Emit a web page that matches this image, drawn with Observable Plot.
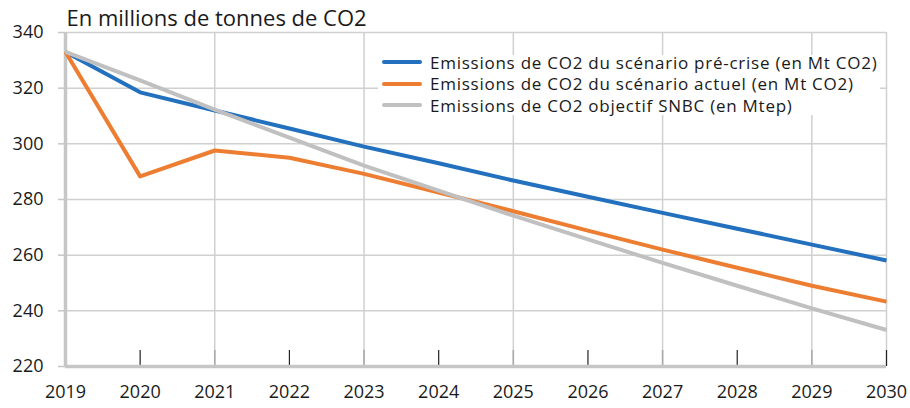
<!DOCTYPE html>
<html>
<head>
<meta charset="utf-8">
<script src="https://cdn.jsdelivr.net/npm/d3@7"></script>
<script src="https://cdn.jsdelivr.net/npm/@observablehq/plot@0.6"></script>
<style>
  html, body { margin: 0; padding: 0; background: #fff; }
  #wrap { position: relative; width: 910px; height: 408px; font-family: "Open Sans", sans-serif; }
  #legend { position: absolute; left: 378px; top: 55px; width: 502px; height: 60px; background: #fff; }
  .row { position: absolute; left: 0; height: 22px; display: flex; align-items: center; font-size: 17px; letter-spacing: 0.75px; color: #1a1a1a; white-space: nowrap; }
  .sw { width: 40px; height: 4px; border-radius: 2px; margin-left: 4px; margin-right: 8px; }
</style>
</head>
<body>
<div id="wrap"></div>
<script>
const years = [2019, 2020, 2021, 2022, 2023, 2024, 2025, 2026, 2027, 2028, 2029, 2030];
const preCrise = [333, 318.5, 312, 305.5, 299, 293, 286.8, 281, 275.2, 269.5, 263.8, 258.1];
const actuel = [333, 288.3, 297.6, 295, 289.2, 282.5, 275.8, 268.8, 262, 255.5, 249, 243.3];
const snbc = [333, 322.8, 312.3, 302.2, 292.2, 283.2, 274.2, 265.7, 257.2, 249, 240.9, 233.1];
const seriesNames = [
  "Emissions de CO2 du scénario pré-crise (en Mt CO2)",
  "Emissions de CO2 du scénario actuel (en Mt CO2)",
  "Emissions de CO2 objectif SNBC (en Mtep)"
];
const colors = ["#2270be", "#ed7d31", "#c0c0c0"];
const yTicks = [220, 240, 260, 280, 300, 320, 340];
const title = "En millions de tonnes de CO2";

const rows = [];
[preCrise, actuel, snbc].forEach((vals, i) => {
  vals.forEach((v, j) => rows.push({series: seriesNames[i], year: years[j], value: v}));
});

const oddYears = years.filter(y => y % 2 === 1 && y !== 2019);
const evenYears = years.filter(y => y % 2 === 0);

const chart = Plot.plot({
  width: 910,
  height: 408,
  marginLeft: 65,
  marginRight: 24,
  marginTop: 32,
  marginBottom: 42,
  style: {fontFamily: "'Open Sans', sans-serif", fontSize: "18px", color: "#1a1a1a", background: "#fff"},
  x: {domain: [2019, 2030]},
  y: {domain: [220, 340]},
  color: {domain: seriesNames, range: colors},
  marks: [
    Plot.gridY(yTicks.slice(1), {stroke: "#d0d0d0", strokeOpacity: 1, strokeWidth: 1.5}),
    Plot.gridX([...oddYears, 2030], {stroke: "#d0d0d0", strokeOpacity: 1, strokeWidth: 1.5}),
    Plot.ruleX([2019, ...oddYears], {y1: 340, y2: 220, insetTop: 318, stroke: "#a8a8a8", strokeWidth: 1.5}),
    Plot.ruleX(evenYears, {y1: 340, y2: 220, insetTop: 318, stroke: "#222", strokeWidth: 1.2}),
    Plot.ruleX([2019], {y1: 340, y2: 220, stroke: "#c6c6c6", strokeWidth: 3.5}),
    Plot.ruleY([220], {stroke: "#c6c6c6", strokeWidth: 3.5}),
    Plot.axisY({ticks: yTicks, tickSize: 7, tickPadding: 15, stroke: "#c6c6c6", strokeWidth: 1.5, label: null, fontSize: 18}),
    Plot.axisX({ticks: years, tickSize: 0, tickPadding: 19, tickFormat: d => String(d), label: null, fontSize: 18}),
    Plot.line(rows, {x: "year", y: "value", z: "series", stroke: "series", strokeWidth: 4, strokeLinejoin: "round", strokeLinecap: "butt"}),
    Plot.text([title], {text: d => d, frameAnchor: "top-left", dx: 1, dy: -22, textAnchor: "start", fontSize: 22, fill: "#1a1a1a"})
  ]
});
const wrap = document.getElementById("wrap");
wrap.appendChild(chart);

const legend = document.createElement("div");
legend.id = "legend";
seriesNames.forEach((name, i) => {
  const r = document.createElement("div");
  r.className = "row";
  r.style.top = (i * 21.5 - 4) + "px";
  const sw = document.createElement("div");
  sw.className = "sw";
  sw.style.background = colors[i];
  const t = document.createElement("span");
  t.textContent = name;
  r.appendChild(sw);
  r.appendChild(t);
  legend.appendChild(r);
});
wrap.appendChild(legend);
</script>
</body>
</html>
